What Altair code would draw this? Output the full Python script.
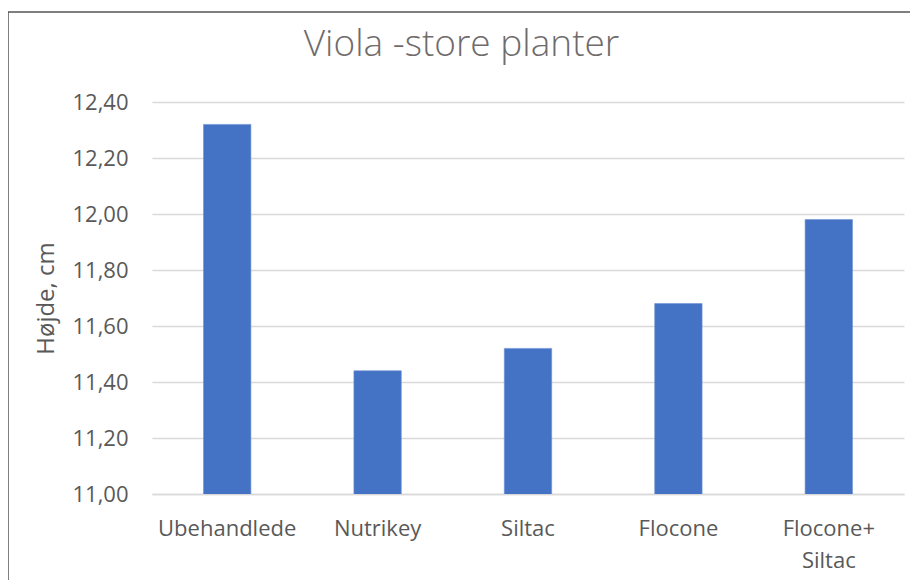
import altair as alt
import pandas as pd

categories = ["Ubehandlede", "Nutrikey", "Siltac", "Flocone", "Flocone+ Siltac"]
values = [12.32, 11.44, 11.52, 11.68, 11.98]
y_ticks = [11.0, 11.2, 11.4, 11.6, 11.8, 12.0, 12.2, 12.4]
chart_title = ["Viola -store planter"]

df = pd.DataFrame({"kategori": categories, "hojde": values})
df_title = pd.DataFrame({"t": chart_title})

FONT = "Open Sans"
GRAY = "#595959"

bars = alt.Chart(df).mark_bar(color="#4472C4", stroke="#6a8fd4", strokeWidth=0.6, clip=True).encode(
    x=alt.X("kategori:N", sort=categories, title=None,
            scale=alt.Scale(paddingInner=0.685, paddingOuter=0.3425),
            axis=alt.Axis(labelAngle=0, labelFontSize=22, labelColor=GRAY, labelFont=FONT,
                          labelPadding=24, ticks=False, domain=True, domainColor="#d9d9d9",
                          domainWidth=1.5, labelLineHeight=32,
                          labelExpr="split(datum.label, ' ')")),
    y=alt.Y("hojde:Q", title="Højde, cm",
            scale=alt.Scale(domain=[11.0, 12.4], nice=False, zero=False),
            axis=alt.Axis(values=y_ticks, labelExpr="replace(format(datum.value, '.2f'), '.', ',')",
                          labelFontSize=22, labelColor=GRAY, labelFont=FONT, labelPadding=24,
                          ticks=False, domain=False, grid=True, gridColor="#d9d9d9", gridWidth=1.5,
                          titleFontSize=24, titleColor=GRAY, titleFont=FONT, titleFontWeight="normal",
                          titlePadding=13)),
)

frame_top = alt.Chart(df_title).mark_rule(stroke="#555555", strokeWidth=1.5, clip=False).encode(
    x=alt.value(-144), x2=alt.value(770), y=alt.value(-90)
)
frame_left = alt.Chart(df_title).mark_rule(stroke="#555555", strokeWidth=1.5, clip=False).encode(
    x=alt.value(-144), y=alt.value(-90), y2=alt.value(600)
)

title = alt.Chart(df_title).mark_text(font=FONT, fontSize=37, fontWeight=300, color="#6f6b6b",
                                      baseline="alphabetic", align="center", clip=False).encode(
    text="t:N", x=alt.value(309.5), y=alt.value(-46)
)

chart = (frame_top + frame_left + bars + title).properties(
    width=752, height=392,
    autosize=alt.AutoSizeParams(type="none"),
    padding={"left": 144, "top": 94, "right": 6, "bottom": 86},
).configure_view(stroke=None)

chart.save("out.html", embed_options={"renderer": "svg", "actions": False})
